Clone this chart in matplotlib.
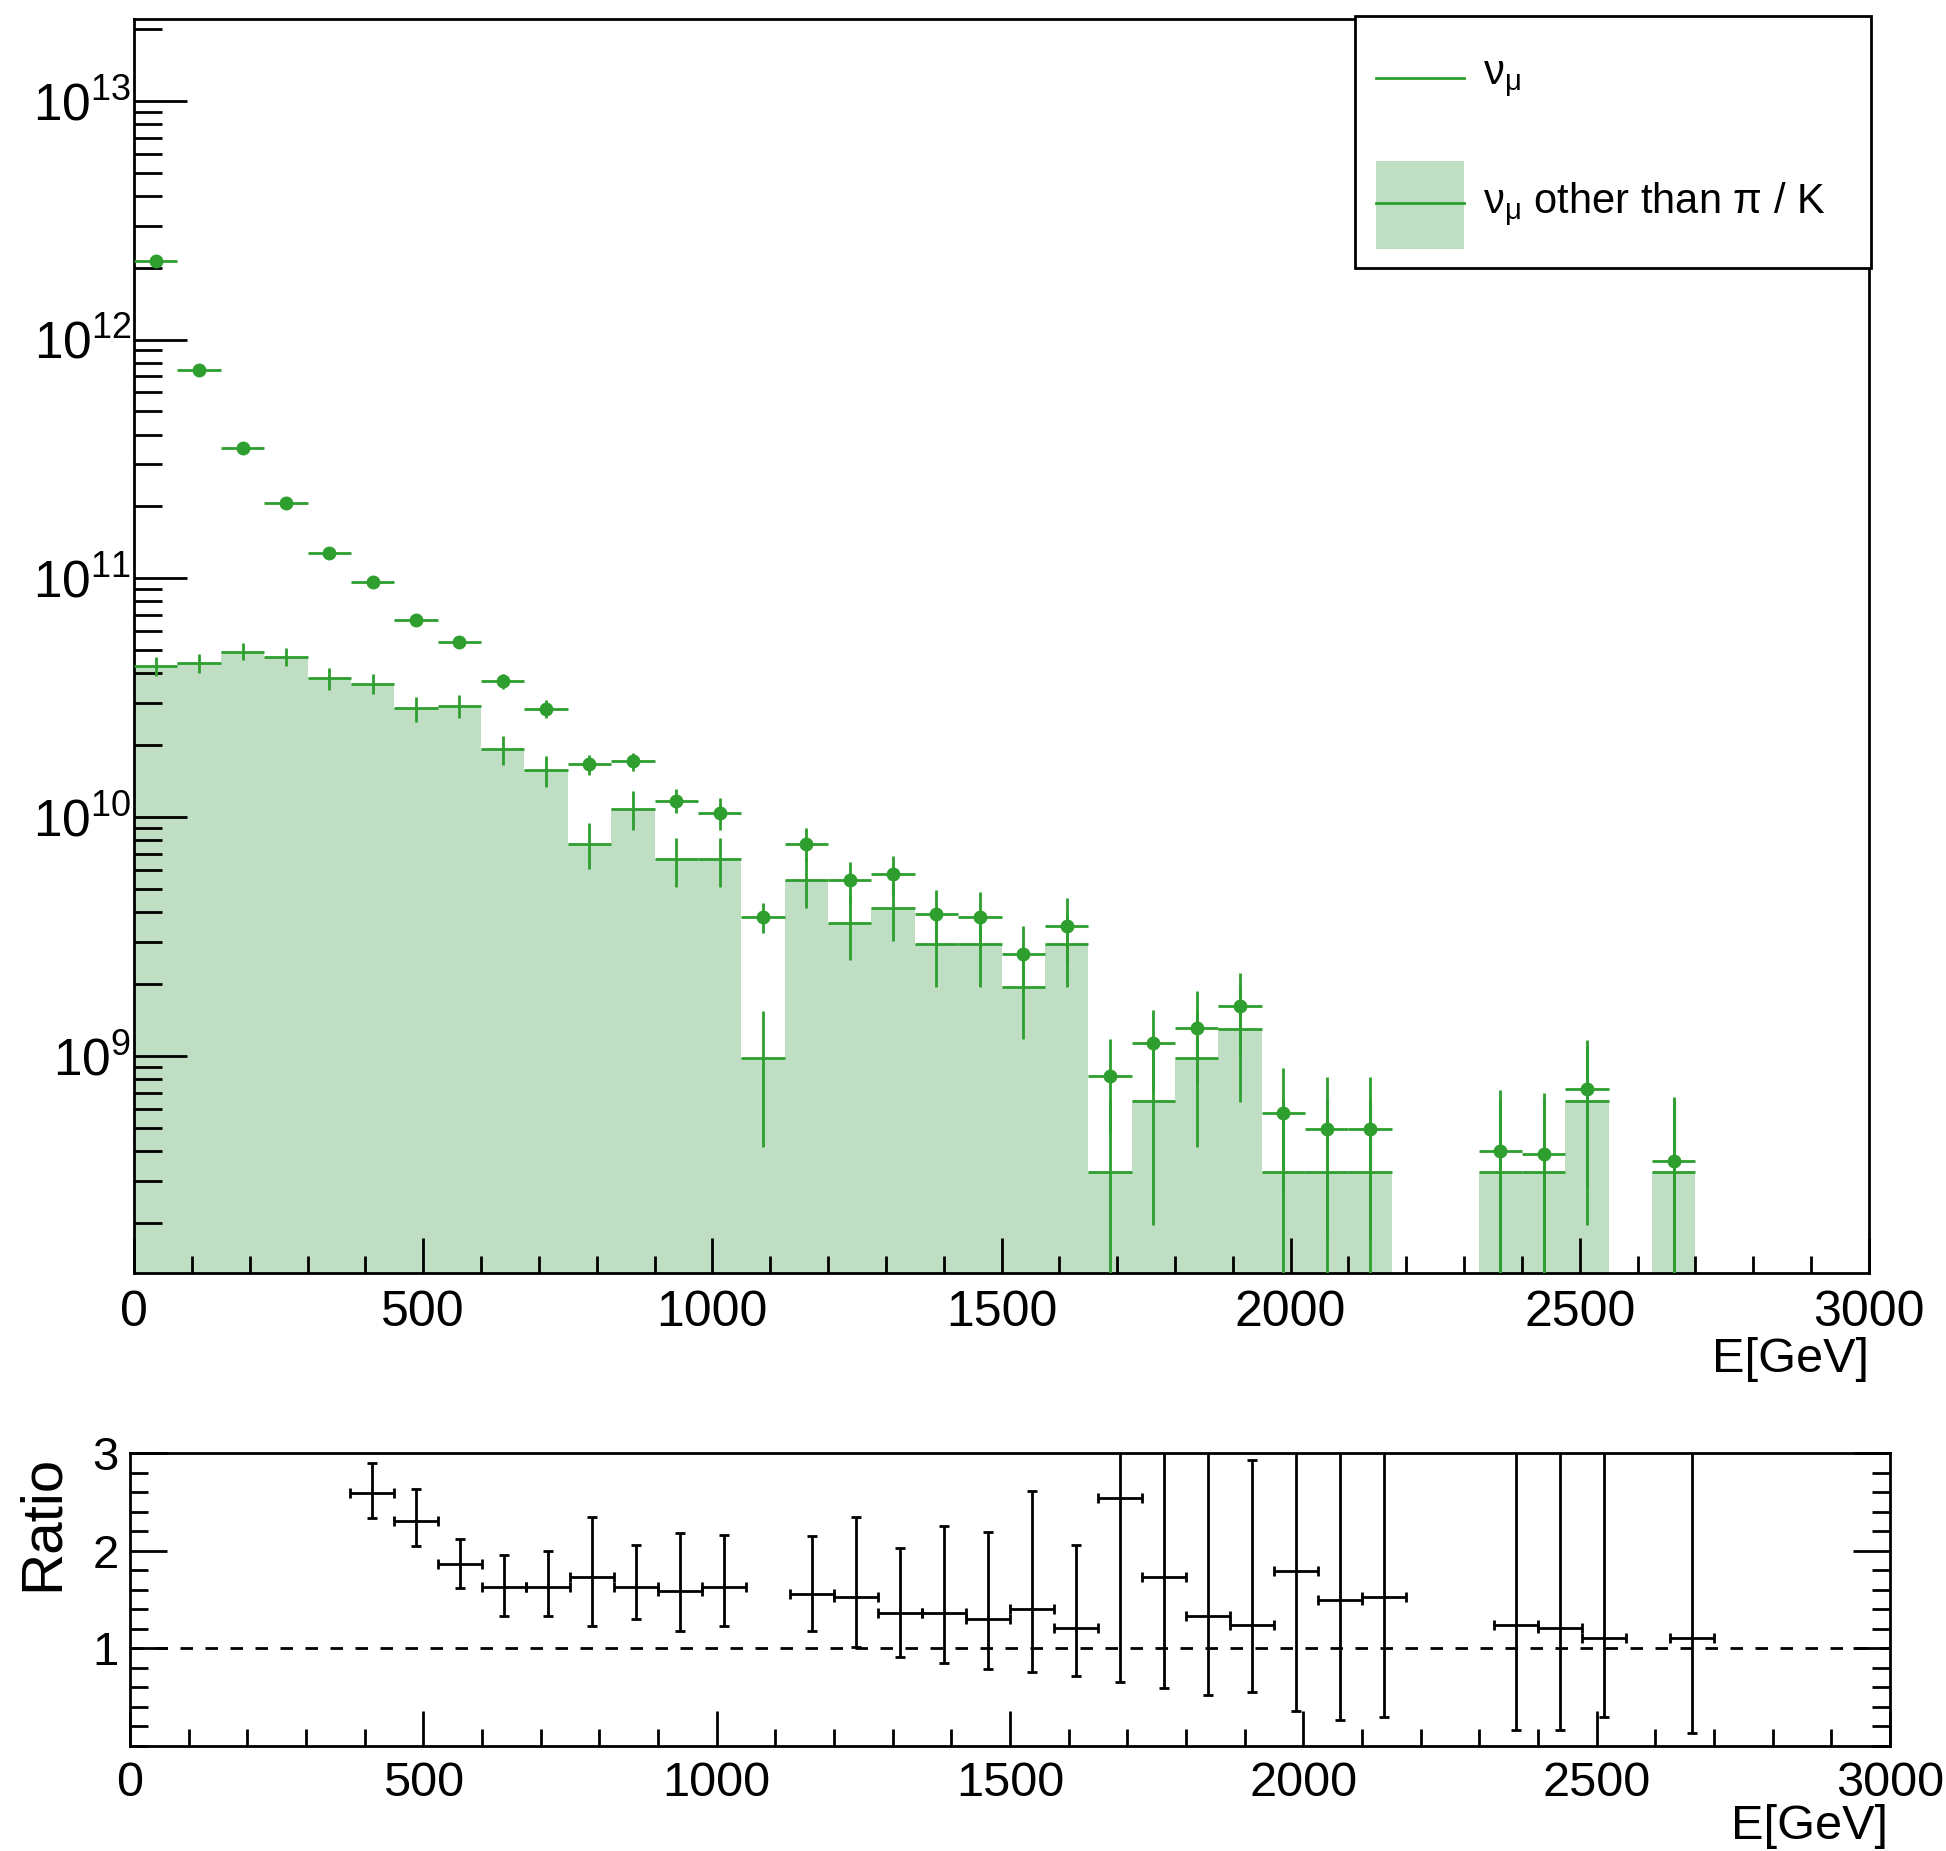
import numpy as np
import matplotlib
matplotlib.use("Agg")
import matplotlib.pyplot as plt
from matplotlib.lines import Line2D
from matplotlib.patches import Rectangle
from matplotlib.ticker import LogLocator, MultipleLocator, FixedLocator, NullFormatter

plt.rcParams['font.family'] = ['Liberation Sans', 'DejaVu Sans']
plt.rcParams['mathtext.fontset'] = 'custom'
plt.rcParams['mathtext.rm'] = 'Liberation Sans'
plt.rcParams['mathtext.it'] = 'Liberation Sans:italic'
plt.rcParams['mathtext.bf'] = 'Liberation Sans:bold'

# 40 bins of 75 GeV between 0 and 3000 GeV
bin_width = 75
bin_edges = np.arange(0, 3001, bin_width)
centers = bin_edges[:-1] + bin_width / 2

# all nu_mu (dots)
numu = [2.14e12, 7.43e11, 3.52e11, 2.06e11, 1.28e11, 9.6e10, 6.70e10, 5.42e10,
        3.70e10, 2.84e10, 1.66e10, 1.71e10, 1.17e10, 1.04e10, 3.81e9, 7.73e9,
        5.42e9, 5.75e9, 3.92e9, 3.81e9, 2.66e9, 3.48e9, 8.2e8, 1.13e9,
        1.31e9, 1.61e9, 5.75e8, 4.93e8, 4.93e8, 0, 0, 3.98e8,
        3.86e8, 7.23e8, 0, 3.64e8, 0, 0, 0, 0]
numu_err = [2e10, 1e10, 6e9, 5e9, 4e9, 3.6e9, 3.4e9, 3.3e9,
            2.8e9, 2.4e9, 1.6e9, 1.5e9, 1.35e9, 1.6e9, 0.55e9, 1.22e9,
            1.04e9, 1.10e9, 1.02e9, 1.02e9, 0.82e9, 1.08e9, 0.35e9, 0.42e9,
            0.55e9, 0.61e9, 0.31e9, 0.32e9, 0.32e9, 0, 0, 0.32e9,
            0.31e9, 0.44e9, 0, 0.31e9, 0, 0, 0, 0]

# nu_mu other than pi / K (filled histogram with crosses)
other = [4.30e10, 4.40e10, 4.93e10, 4.70e10, 3.81e10, 3.62e10, 2.85e10, 2.92e10,
         1.92e10, 1.57e10, 7.73e9, 1.08e10, 6.65e9, 6.65e9, 9.8e8, 5.44e9,
         3.58e9, 4.17e9, 2.93e9, 2.93e9, 1.94e9, 2.93e9, 3.26e8, 6.45e8,
         9.75e8, 1.30e9, 3.26e8, 3.26e8, 3.26e8, 0, 0, 3.26e8,
         3.26e8, 6.45e8, 0, 3.26e8, 0, 0, 0, 0]
other_err = [3.9e9, 4.0e9, 4.0e9, 4.0e9, 4.0e9, 3.6e9, 3.4e9, 3.2e9,
             2.7e9, 2.3e9, 1.7e9, 2.0e9, 1.55e9, 1.55e9, 5.65e8, 1.3e9,
             1.07e9, 1.16e9, 0.99e9, 0.99e9, 0.77e9, 0.99e9, 3.26e8, 4.5e8,
             5.6e8, 6.6e8, 3.26e8, 3.26e8, 3.26e8, 0, 0, 3.26e8,
             3.26e8, 4.5e8, 0, 3.26e8, 0, 0, 0, 0]

# ratio panel (nan = not shown / outside range)
nan = np.nan
ratio = [nan, nan, nan, nan, nan, 2.595, 2.308, 1.862,
         1.629, 1.629, 1.731, 1.629, 1.594, 1.629, nan, 1.56,
         1.533, 1.368, 1.368, 1.303, 1.406, 1.207, 2.544, 1.731,
         1.337, 1.245, 1.793, 1.498, 1.533, nan, nan, 1.245,
         1.207, 1.108, nan, 1.108, nan, nan, nan, nan]
ratio_up = [nan, nan, nan, nan, nan, 0.312, 0.33, 0.264,
            0.332, 0.366, 0.618, 0.428, 0.593, 0.531, nan, 0.593,
            0.816, 0.662, 0.885, 0.89, 1.21, 0.85, 3.6, 2.6,
            1.9, 1.69, 3.0, 2.8, 2.8, nan, nan, 2.6,
            2.5, 2.0, nan, 2.3, nan, nan, nan, nan]
ratio_dn = [nan, nan, nan, nan, nan, 0.253, 0.26, 0.24,
            0.292, 0.292, 0.497, 0.326, 0.418, 0.395, nan, 0.377,
            0.521, 0.452, 0.518, 0.51, 0.65, 0.49, 1.886, 1.138,
            0.812, 0.69, 1.43, 1.234, 1.235, nan, nan, 1.084,
            1.046, 0.81, nan, 0.977, nan, nan, nan, nan]

labels = [r'$\mathrm{\nu_{\mu}}$', r'$\mathrm{\nu_{\mu}}$ other than π / K']

green = '#2e9f2e'
fill = '#bfdec4'

numu = np.array(numu); numu_err = np.array(numu_err)
other = np.array(other); other_err = np.array(other_err)
ratio = np.array(ratio); ratio_up = np.array(ratio_up); ratio_dn = np.array(ratio_dn)

W, H = 1946, 1851
fig = plt.figure(figsize=(W / 100, H / 100), dpi=100)
ax = fig.add_axes([0.0689, 0.31226, 0.8915, 0.67747])
rax = fig.add_axes([0.0668, 0.05673, 0.9044, 0.15802])

def fx(px):
    return px / W

def fy(py):
    return 1 - py / H

# top panel
ax.set_yscale('log', nonpositive='clip')
m = other > 0
ax.bar(centers[m], other[m], width=bin_width, color=fill, linewidth=0,
       antialiased=False, zorder=1)
ax.errorbar(centers[m], other[m], xerr=bin_width / 2, yerr=other_err[m],
            fmt='none', ecolor=green, elinewidth=2, capsize=0, zorder=3)
m2 = numu > 0
ax.errorbar(centers[m2], numu[m2], xerr=bin_width / 2, yerr=numu_err[m2],
            fmt='o', color=green, ms=9, elinewidth=2, capsize=0, zorder=4)
ax.set_xlim(0, 3000)
ax.set_ylim(1.23e8, 2.2e13)

ax.xaxis.set_major_locator(MultipleLocator(500))
ax.xaxis.set_minor_locator(MultipleLocator(100))
ax.yaxis.set_major_locator(LogLocator(base=10, numticks=20))
ax.yaxis.set_minor_locator(LogLocator(base=10, subs=np.arange(2, 10), numticks=20))
ax.yaxis.set_minor_formatter(NullFormatter())
ax.tick_params(which='both', direction='in', top=False, right=False, width=2)
ax.tick_params(axis='x', which='major', length=25, pad=12, labelsize=36)
ax.tick_params(axis='x', which='minor', length=12.5)
ax.tick_params(axis='y', which='major', length=38, pad=2, labelsize=37)
ax.tick_params(axis='y', which='minor', length=20)
for s in ax.spines.values():
    s.set_linewidth(2)

# legend box drawn like ROOT's TLegend
fig.add_artist(Rectangle((fx(1355), fy(268)), fx(516), 252 / H, transform=fig.transFigure,
                         facecolor='white', edgecolor='black', lw=2, zorder=5))
fig.add_artist(Line2D([fx(1376), fx(1464)], [fy(78), fy(78)], transform=fig.transFigure,
                      color=green, lw=2, zorder=6))
fig.add_artist(Rectangle((fx(1376), fy(249)), fx(88), 88 / H, transform=fig.transFigure,
                         facecolor=fill, edgecolor='none', zorder=6))
fig.add_artist(Line2D([fx(1376), fx(1464)], [fy(203), fy(203)], transform=fig.transFigure,
                      color=green, lw=2, zorder=7))
fig.text(fx(1483), fy(80), labels[0], ha='left', va='center', fontsize=30, zorder=8)
fig.text(fx(1483), fy(205), labels[1], ha='left', va='center', fontsize=30, zorder=8)

fig.text(fx(1869), fy(1360), 'E[GeV]', ha='right', va='center', fontsize=35)

# ratio panel
ok = np.isfinite(ratio) & (ratio <= 3)
rax.errorbar(centers[ok], ratio[ok], xerr=bin_width / 2,
             yerr=[ratio_dn[ok], ratio_up[ok]], fmt='none', ecolor='black',
             elinewidth=2, capsize=3.6, capthick=2, zorder=3)
rax.axhline(1, color='black', lw=2, ls=(0, (4.5, 4.5)), zorder=2)
rax.set_xlim(0, 3000)
rax.set_ylim(0, 3)
rax.xaxis.set_major_locator(MultipleLocator(500))
rax.xaxis.set_minor_locator(MultipleLocator(100))
rax.yaxis.set_major_locator(FixedLocator([1, 2, 3]))
rax.yaxis.set_minor_locator(MultipleLocator(0.2))
rax.tick_params(which='both', direction='in', top=False, right=True, width=2)
rax.tick_params(axis='x', which='major', length=25, pad=11, labelsize=35)
rax.tick_params(axis='x', which='minor', length=12)
rax.tick_params(axis='y', which='major', length=26.6, pad=8, labelsize=34)
rax.tick_params(axis='y', which='minor', length=13)
for s in rax.spines.values():
    s.set_linewidth(2)

fig.text(fx(43), fy(1455), 'Ratio', rotation=90, ha='center', va='top', fontsize=42)
fig.text(fx(1888), fy(1826), 'E[GeV]', ha='right', va='center', fontsize=35)

fig.savefig('out.png', dpi=100, facecolor='white')
